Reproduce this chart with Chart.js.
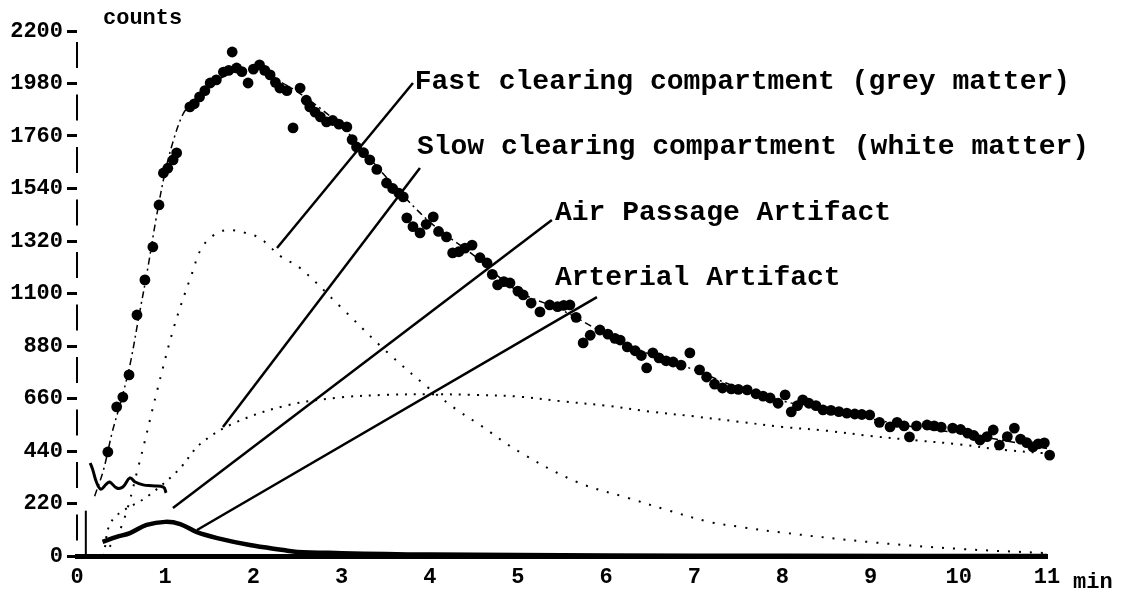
<!DOCTYPE html>
<html>
<head>
<meta charset="utf-8">
<script src="https://cdn.jsdelivr.net/npm/chart.js@4.4.0/dist/chart.umd.min.js"></script>
<style>
  html, body { margin: 0; padding: 0; background: #fff; }
  #wrap { width: 1123px; height: 598px; position: relative; }
</style>
</head>
<body>
<div id="wrap"><canvas id="curve"></canvas></div>
<script>
// measured counts (scatter)
const measuredMin = [0.35, 0.45, 0.52, 0.59, 0.68, 0.77, 0.86, 0.93, 0.98, 1.03, 1.09, 1.13, 1.28, 1.33, 1.39, 1.45, 1.51, 1.58, 1.66, 1.72,
  1.76, 1.81, 1.87, 1.94, 2.0, 2.07, 2.13, 2.19, 2.25, 2.3, 2.38, 2.45, 2.53, 2.6, 2.64, 2.7, 2.76, 2.83, 2.9, 2.97,
  3.06, 3.12, 3.17, 3.25, 3.32, 3.4, 3.51, 3.58, 3.65, 3.7, 3.74, 3.81, 3.89, 3.96, 4.04, 4.1, 4.19, 4.26, 4.33, 4.4,
  4.48, 4.57, 4.65, 4.71, 4.77, 4.84, 4.91, 5.0, 5.06, 5.15, 5.25, 5.36, 5.45, 5.52, 5.59, 5.66, 5.74, 5.82, 5.93, 6.02,
  6.1, 6.16, 6.24, 6.33, 6.4, 6.46, 6.53, 6.6, 6.68, 6.76, 6.85, 6.95, 7.06, 7.14, 7.23, 7.32, 7.42, 7.5, 7.6, 7.7,
  7.78, 7.86, 7.95, 8.03, 8.1, 8.17, 8.23, 8.3, 8.38, 8.46, 8.55, 8.64, 8.73, 8.82, 8.9, 8.99, 9.1, 9.22, 9.3, 9.38,
  9.44, 9.52, 9.64, 9.72, 9.8, 9.93, 10.02, 10.1, 10.17, 10.24, 10.32, 10.39, 10.46, 10.55, 10.63, 10.7, 10.77, 10.84, 10.9, 10.97, 11.03];
const measuredCounts = [436, 625, 666, 759, 1010, 1157, 1295, 1471, 1605, 1625, 1660, 1689, 1882, 1895, 1924, 1950, 1982, 1995, 2028, 2035,
  2112, 2045, 2030, 1982, 2040, 2058, 2035, 2016, 1985, 1961, 1950, 1794, 1961, 1910, 1882, 1860, 1840, 1819, 1825, 1810,
  1798, 1745, 1714, 1690, 1660, 1620, 1563, 1540, 1520, 1505, 1417, 1380, 1354, 1390, 1421, 1360, 1337, 1270, 1275, 1290,
  1303, 1250, 1228, 1180, 1136, 1150, 1144, 1110, 1094, 1060, 1023, 1052, 1045, 1050, 1052, 1000, 893, 925, 947, 930,
  912, 905, 876, 860, 840, 788, 851, 830, 818, 813, 800, 851, 780, 750, 720, 704, 700, 698, 696, 680,
  670, 662, 640, 675, 604, 630, 654, 640, 630, 612, 610, 605, 599, 595, 593, 591, 560, 541, 560, 545,
  499, 545, 549, 545, 540, 536, 530, 515, 505, 486, 500, 528, 465, 500, 536, 490, 475, 457, 470, 474, 423];

// fitted total curve
const fitMin = [0.2, 0.3, 0.4, 0.5, 0.6, 0.7, 0.8, 0.9, 1.0, 1.1, 1.2, 1.3, 1.4, 1.6, 1.8, 2.0, 2.2, 2.5, 3.0, 3.5, 4.0, 4.5, 5.0, 5.5, 6.0, 6.5, 7.0, 7.5, 8.0, 8.5, 9.0, 9.5, 10.0, 10.5, 11.0];
const fitCounts = [250, 360, 520, 650, 800, 1000, 1200, 1420, 1610, 1750, 1850, 1900, 1935, 1995, 2030, 2030, 2005, 1945, 1800, 1590, 1400, 1260, 1110, 1030, 930, 845, 780, 705, 650, 610, 575, 540, 515, 485, 450];

// fast clearing compartment (grey matter)
const fastMin = [0.3, 0.5, 0.7, 0.9, 1.1, 1.3, 1.42, 1.59, 1.73, 1.9, 2.07, 2.19, 2.32, 2.53, 3.0, 3.5, 4.0, 4.31, 4.57, 5.0, 5.67, 6.25, 6.69, 7.18, 7.52, 8.0, 9.0, 10.0, 11.0];
const fastCounts = [0, 120, 380, 680, 960, 1180, 1295, 1354, 1366, 1355, 1333, 1295, 1253, 1207, 1040, 860, 700, 612, 549, 440, 310, 243, 193, 142, 122, 98, 58, 30, 12];

// slow clearing compartment (white matter)
const slowMin = [0.3, 0.4, 0.8, 1.15, 1.4, 1.8, 2.4, 3.0, 3.5, 4.0, 4.5, 5.0, 5.5, 6.0, 6.5, 7.0, 7.5, 8.0, 8.5, 9.0, 9.5, 10.0, 10.5, 11.0];
const slowCounts = [0, 150, 250, 360, 470, 560, 633, 665, 675, 678, 675, 668, 648, 630, 605, 585, 563, 541, 525, 503, 485, 468, 445, 430];

// air passage artifact
const airMin = [0.15, 0.18, 0.22, 0.27, 0.33, 0.37, 0.45, 0.52, 0.6, 0.66, 0.75, 0.85, 0.98, 1.01];
const airCounts = [390, 360, 310, 280, 300, 310, 285, 289, 327, 310, 298, 294, 289, 265];

// arterial artifact
const arterialMin = [0.29, 0.45, 0.6, 0.79, 1.0, 1.17, 1.36, 1.59, 1.96, 2.34, 2.5, 3.0, 3.5, 4.0, 5.0, 6.0, 8.0, 11.0];
const arterialCounts = [59, 80, 96, 130, 143, 134, 100, 75, 46, 25, 17, 12, 8, 6, 4, 2, 1, 0];

// early spike
const spikeMin = [0.1, 0.1];
const spikeCounts = [0, 190];

// callout labels and their leader lines
const calloutText = ['Fast clearing compartment (grey matter)', 'Slow clearing compartment (white matter)', 'Air Passage Artifact', 'Arterial Artifact'];
const calloutTextMin = [3.83, 3.855, 5.42, 5.42];
const calloutTextCounts = [1986, 1714, 1437, 1165];
const leaderFromMin = [3.81, 3.889, 5.385, 5.896];
const leaderFromCounts = [1982, 1626, 1408, 1085];
const leaderToMin = [2.268, 1.655, 1.088, 1.361];
const leaderToCounts = [1291, 541, 201, 109];

const yTicks = [0, 220, 440, 660, 880, 1100, 1320, 1540, 1760, 1980, 2200];

const mono = "'Liberation Mono', 'DejaVu Sans Mono', monospace";

function toPoints(xs, ys) {
    return xs.map((x, i) => ({ x: x, y: ys[i] }));
}

const datasets = [
    {
        label: 'measured', type: 'scatter', data: toPoints(measuredMin, measuredCounts),
        pointRadius: 5.4, pointBackgroundColor: '#000', pointBorderColor: '#000', pointBorderWidth: 0, clip: 10
    },
    {
        label: 'fit', data: toPoints(fitMin, fitCounts), borderColor: '#000', borderWidth: 1.5,
        borderDash: [7, 4, 2, 4], tension: 0.35, pointRadius: 0
    },
    {
        label: 'fast', data: toPoints(fastMin, fastCounts), borderColor: '#000', borderWidth: 2,
        borderDash: [2, 9], tension: 0.35, pointRadius: 0
    },
    {
        label: 'slow', data: toPoints(slowMin, slowCounts), borderColor: '#000', borderWidth: 2,
        borderDash: [2, 7], tension: 0.35, pointRadius: 0
    },
    {
        label: 'air', data: toPoints(airMin, airCounts), borderColor: '#000', borderWidth: 3,
        tension: 0.4, pointRadius: 0
    },
    {
        label: 'arterial', data: toPoints(arterialMin, arterialCounts), borderColor: '#000', borderWidth: 4.5,
        tension: 0.35, pointRadius: 0
    },
    {
        label: 'spike', data: toPoints(spikeMin, spikeCounts), borderColor: '#000', borderWidth: 2, pointRadius: 0
    }
];

// Les lignes de rappel (leader lines)
leaderFromMin.forEach((m, i) => {
    datasets.push({
        label: 'leader' + i,
        data: [{ x: m, y: leaderFromCounts[i] }, { x: leaderToMin[i], y: leaderToCounts[i] }],
        borderColor: '#000', borderWidth: 2.5, pointRadius: 0
    });
});

// axe vertical en pointillés
const dashedAxis = {
    id: 'dashedAxis',
    beforeDatasetsDraw(chart) {
        const { ctx, chartArea } = chart;
        ctx.save();
        ctx.strokeStyle = '#000';
        ctx.lineWidth = 2;
        ctx.setLineDash([26, 26.5]);
        ctx.lineDashOffset = 41.5;
        ctx.beginPath();
        ctx.moveTo(chartArea.left, chartArea.top);
        ctx.lineTo(chartArea.left, chartArea.bottom);
        ctx.stroke();
        ctx.restore();
    }
};

// textes : annotations, "counts" et "min"
const textPlugin = {
    id: 'texts',
    afterDatasetsDraw(chart) {
        const { ctx, chartArea } = chart;
        const xs = chart.scales.x, ys = chart.scales.y;
        ctx.save();
        ctx.fillStyle = '#000';
        ctx.textBaseline = 'middle';
        ctx.font = 'bold 28px ' + mono;
        calloutText.forEach((t, i) => {
            ctx.fillText(t, xs.getPixelForValue(calloutTextMin[i]), ys.getPixelForValue(calloutTextCounts[i]));
        });
        ctx.font = 'bold 22px ' + mono;
        ctx.fillText('counts', chartArea.left + 26, chartArea.top - 13);
        ctx.fillText('min', chartArea.right + 26, chartArea.bottom + 26);
        ctx.restore();
    }
};

const ctx = document.getElementById('curve').getContext('2d');
new Chart(ctx, {
    type: 'line',
    data: { datasets: datasets },
    options: {
        responsive: true,
        maintainAspectRatio: false,
        animation: false,
        parsing: false,
        layout: { padding: { left: 0, top: 31, right: 76, bottom: 0 } },
        plugins: { legend: { display: false }, tooltip: { enabled: false } },
        scales: {
            x: {
                type: 'linear', min: 0, max: 11,
                afterFit: (scale) => { scale.height = 42; },
                grid: { display: false, drawTicks: false },
                border: { display: true, color: '#000', width: 5 },
                ticks: { stepSize: 1, color: '#000', padding: 8, font: { family: mono, size: 22, weight: 'bold' } }
            },
            y: {
                type: 'linear', min: 0, max: 2200,
                afterFit: (scale) => { scale.width = 77; },
                afterBuildTicks: (scale) => { scale.ticks = yTicks.map(v => ({ value: v })); },
                grid: { drawOnChartArea: false, drawTicks: true, tickLength: 10, color: '#000', lineWidth: 3 },
                border: { display: false },
                ticks: { color: '#000', padding: 4, callback: (v) => String(v), font: { family: mono, size: 22, weight: 'bold' } }
            }
        }
    },
    plugins: [dashedAxis, textPlugin]
});
</script>
</body>
</html>
